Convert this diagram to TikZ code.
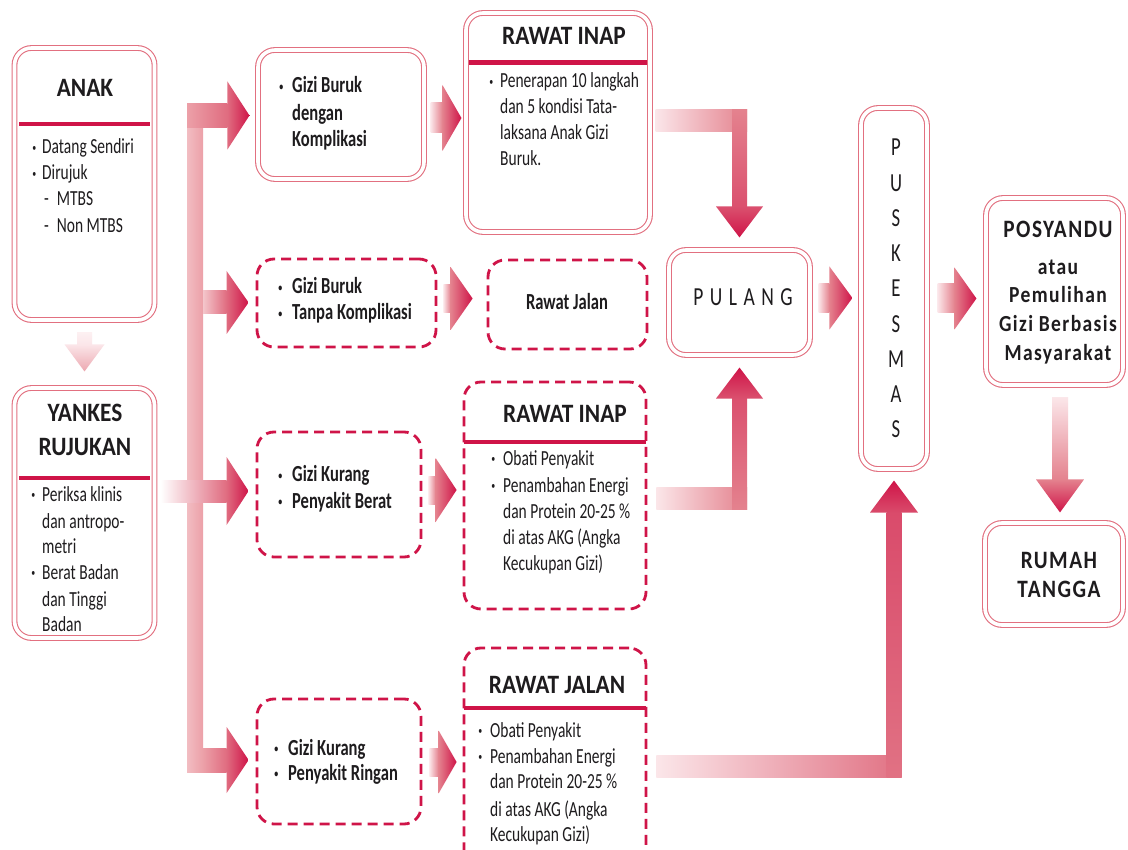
\documentclass[tikz,border=0pt]{standalone}
\usepackage{fontspec}
\setmainfont{Carlito}
\newfontfamily\bodyf[FakeStretch=0.72]{Carlito}
\newfontfamily\titlef[FakeStretch=0.88]{Carlito}
\newfontfamily\tallf[FakeStretch=0.72]{Carlito}
\newfontfamily\pulf[FakeStretch=0.75,LetterSpace=25]{Carlito}
\newfontfamily\posf[FakeStretch=0.85,LetterSpace=6]{Carlito}
\usetikzlibrary{calc}
\definecolor{crim}{RGB}{207,20,72}
\definecolor{bline}{RGB}{226,112,128}
\definecolor{apink}{RGB}{228,130,142}
\definecolor{alight}{RGB}{251,230,233}
\definecolor{vbar}{RGB}{236,160,168}
\definecolor{ink}{RGB}{30,28,30}
\newcommand\bul[1]{\llap{\raisebox{2.5pt}{\fontsize{11}{11}\selectfont\textbullet}\hspace{#1pt}}}
% block arrows: tail, tip, bar half, head half, head length, bar start colour, bar end colour, head end colour
\newcommand\arrR[8]{%
 \shade[left color=#6, right color=#7] ($(#1)+(0,-#3)$) rectangle ($(#2)+(-#5,#3)$);
 \shade[left color=#7, right color=#8] ($(#2)+(-#5,-#4)$) -- ($(#2)+(-#5,#4)$) -- (#2) -- cycle;}
\newcommand\arrD[8]{%
 \shade[top color=#6, bottom color=#7] ($(#1)+(-#3,0)$) rectangle ($(#2)+(#3,-#5)$);
 \shade[top color=#7, bottom color=#8] ($(#2)+(-#4,-#5)$) -- ($(#2)+(#4,-#5)$) -- (#2) -- cycle;}
\newcommand\arrU[8]{%
 \shade[bottom color=#6, top color=#7] ($(#1)+(-#3,0)$) rectangle ($(#2)+(#3,#5)$);
 \shade[bottom color=#7, top color=#8] ($(#2)+(-#4,#5)$) -- ($(#2)+(#4,#5)$) -- (#2) -- cycle;}
\tikzset{
 dbox/.style={draw=bline, line width=1.1pt, double=white, double distance=3.6pt, rounded corners=17pt, inner sep=0, fill=white},
 dashbox/.style={draw=crim, line width=2.8pt, dash pattern=on 10pt off 6pt, rounded corners=17pt, inner sep=0, fill=white},
 tline/.style={draw=crim, line width=4.5pt},
 body/.style={inner sep=0, anchor=base west, text=ink, font=\bodyf\fontsize{21.5}{24}\selectfont},
 bbody/.style={inner sep=0, anchor=base west, text=ink, font=\bodyf\bfseries\fontsize{23}{26}\selectfont},
 title/.style={inner sep=0, anchor=base, text=ink, font=\titlef\bfseries\fontsize{26.5}{30}\selectfont},
 lett/.style={inner sep=0, anchor=base, text=ink, font=\tallf\fontsize{26}{28}\selectfont},
 posbig/.style={inner sep=0, anchor=base, text=ink, font=\posf\bfseries\fontsize{25}{28}\selectfont},
 possmall/.style={inner sep=0, anchor=base, text=ink, font=\posf\bfseries\fontsize{23}{26}\selectfont},
}
\begin{document}
\begin{tikzpicture}[x=1pt,y=-1pt]
\useasboundingbox (0,0) rectangle (1128,850);
\clip (0,0) rectangle (1128,850);
\fill[white] (0,0) rectangle (1128,850);

% ---------- boxes ----------
\node[dbox, minimum width=140pt, minimum height=272pt] (anak) at (84.5,184) {};
\node[dbox, minimum width=140pt, minimum height=250pt] (yankes) at (84.5,513) {};
\node[dbox, minimum width=166pt, minimum height=129pt] (gbk) at (341,114.5) {};
\node[dbox, minimum width=184pt, minimum height=219pt] (ri1) at (558,122.5) {};
\node[dbox, minimum width=141pt, minimum height=105pt] (pulang) at (739.5,302.5) {};
\node[dbox, minimum width=66pt, minimum height=361pt] (pusk) at (894,288.5) {};
\node[dbox, minimum width=137pt, minimum height=187pt] (posy) at (1054.5,291.5) {};
\node[dbox, minimum width=138pt, minimum height=102pt] (rumah) at (1054,574) {};
\node[dashbox, minimum width=179pt, minimum height=88pt] (gbt) at (346.5,303) {};
\node[dashbox, minimum width=159pt, minimum height=89pt] (rj1) at (567.5,304.5) {};
\node[dashbox, minimum width=164pt, minimum height=125pt] (gkb) at (339,494.5) {};
\node[dashbox, minimum width=182pt, minimum height=227pt] (ri2) at (555,495.5) {};
\node[dashbox, minimum width=164pt, minimum height=125pt] (gkr) at (339,761.5) {};
\node[dashbox, minimum width=182pt, minimum height=232pt] (rj2) at (555,764) {};

% ---------- arrows ----------
% ANAK -> YANKES
\coordinate (v1) at ($(anak.south)+(0,12)$);
\coordinate (v2) at ($(yankes.north)+(0,-16)$);
\arrD{v1}{v2}{7.5}{20}{27}{alight!60!white}{alight}{apink!70!white}

% left distributor
\coordinate (vb) at (195,0);
\coordinate (yT) at (0,115.5);
\coordinate (yB) at (0,302.5);
\coordinate (yD) at (0,760);
\shade[left color=vbar!70!white, right color=vbar] ($(vb |- yT)+(-8,-12)$) rectangle ($(vb |- yD)+(8,12)$);
\coordinate (lA) at ($(vb |- yT)+(-8,0)$);
\coordinate (hA) at ($(gbk.west |- yT)+(-8,0)$);
\arrR{lA}{hA}{12}{34}{22}{vbar}{apink!80!crim}{crim}
\coordinate (lB) at ($(vb |- yB)+(8,0)$);
\coordinate (hB) at ($(gbt.west |- yB)+(-7,0)$);
\arrR{lB}{hB}{11.5}{31.5}{22}{vbar!60!white}{apink!80!crim}{crim}
\coordinate (lD) at ($(vb |- yD)+(8,0)$);
\coordinate (hD) at ($(gkr.west |- yD)+(-7,0)$);
\arrR{lD}{hD}{12}{33}{22}{vbar}{apink!80!crim}{crim}
\coordinate (lC) at ($(yankes.east)+(5.5,-22)$);
\coordinate (hC) at ($(gkb.west |- lC)+(-7,0)$);
\arrR{lC}{hC}{11}{34}{22}{white}{apink!80!crim}{crim}

% column 1 -> column 2
\coordinate (yA) at (0,118);
\coordinate (t1) at ($(gbk.east |- yA)+(6,0)$);
\coordinate (h1) at ($(ri1.west |- yA)+(-4,0)$);
\arrR{t1}{h1}{15}{33}{19}{alight}{apink}{crim}
\coordinate (yE) at (0,298.5);
\coordinate (t2) at ($(gbt.east |- yE)+(6,0)$);
\coordinate (h2) at ($(rj1.west |- yE)+(-14,0)$);
\arrR{t2}{h2}{14}{31.5}{22}{alight}{apink}{crim}
\coordinate (yF) at (0,490);
\coordinate (t3) at ($(gkb.east |- yF)+(6,0)$);
\coordinate (h3) at ($(ri2.west |- yF)+(-6,0)$);
\arrR{t3}{h3}{14}{32}{21}{alight}{apink}{crim}
\coordinate (yG) at (0,762);
\coordinate (t4) at ($(gkr.east |- yG)+(7,0)$);
\coordinate (h4) at ($(rj2.west |- yG)+(-6,0)$);
\arrR{t4}{h4}{14}{31.5}{18}{alight}{apink}{crim}

% RAWAT INAP (top) -> PULANG
\coordinate (r1a) at ($(ri1.east)+(5,-1.5)$);
\coordinate (r1b) at (pulang.north |- r1a);
\shade[left color=alight, right color=apink] ($(r1a)+(0,-11)$) rectangle ($(r1b)+(7.5,11)$);
\coordinate (r1t) at ($(r1b)+(0,-11)$);
\coordinate (r1c) at ($(pulang.north)+(0,-12)$);
\arrD{r1t}{r1c}{7.5}{23.5}{31}{apink}{apink!55!crim}{crim}

% RAWAT INAP (middle) -> PULANG
\coordinate (r2a) at ($(ri2.east)+(9,3)$);
\coordinate (r2b) at (pulang.south |- r2a);
\shade[left color=alight, right color=apink] ($(r2a)+(0,-11)$) rectangle ($(r2b)+(7.5,11)$);
\coordinate (r2t) at ($(r2b)+(0,11)$);
\coordinate (r2c) at ($(pulang.south)+(0,12)$);
\arrU{r2t}{r2c}{7.5}{23.5}{31}{apink}{apink!55!crim}{crim}

% PULANG -> PUSKESMAS
\coordinate (p1) at ($(pulang.east)+(8,-4.5)$);
\coordinate (p2) at ($(pusk.west |- p1)+(-8,0)$);
\arrR{p1}{p2}{14.5}{31.5}{23}{alight}{apink}{crim}

% RAWAT JALAN (bottom) -> PUSKESMAS
\coordinate (yQ) at (0,766);
\coordinate (q1) at ($(rj2.east |- yQ)+(9,0)$);
\coordinate (q2) at (pusk.south |- yQ);
\shade[left color=alight, right color=apink!85!crim] ($(q1)+(0,-11)$) rectangle ($(q2)+(7.5,11)$);
\coordinate (q3) at ($(q2)+(0,11)$);
\coordinate (q4) at ($(pusk.south)+(0,11)$);
\arrU{q3}{q4}{7.5}{24}{32}{apink!85!crim}{apink!50!crim}{crim}

% PUSKESMAS -> POSYANDU
\coordinate (s1) at ($(pusk.east)+(10,10)$);
\coordinate (s2) at ($(posy.west |- s1)+(-9,0)$);
\arrR{s1}{s2}{14.5}{31}{22}{alight}{apink}{crim}

% POSYANDU -> RUMAH TANGGA
\coordinate (u1) at ($(posy.south)+(5.5,12)$);
\coordinate (u2) at ($(u1 |- rumah.north)+(0,-10)$);
\arrD{u1}{u2}{8}{24}{33}{alight}{apink}{crim}

% ---------- texts ----------
% ANAK
\node[title] (anakT) at (85,97) {ANAK};
\draw[tline] (19,124) -- (150,124);
\node[body] (an1) at (42,154) {\bul{6}Datang Sendiri};
\node[body] (an2) at (42,180) {\bul{6}Dirujuk};
\node[body] (an3) at (44,206) {-\hspace{8pt}MTBS};
\node[body] (an4) at (44,233) {-\hspace{8pt}Non MTBS};

% YANKES RUJUKAN
\node[title] (ykT1) at (85,421) {YANKES};
\node[title] (ykT2) at (85,455) {RUJUKAN};
\draw[tline] (19,478) -- (150,478);
\node[body] (yk1) at (42,501) {\bul{7}Periksa klinis};
\node[body] (yk2) at (42,528) {dan antropo-};
\node[body] (yk3) at (42,553) {metri};
\node[body] (yk4) at (42,579) {\bul{7}Berat Badan};
\node[body] (yk5) at (42,606) {dan Tinggi};
\node[body] (yk6) at (42,631) {Badan};

% Gizi Buruk dengan Komplikasi
\node[bbody] (g1) at (292,93) {\bul{9}Gizi Buruk};
\node[bbody] (g2) at (292,121) {dengan};
\node[bbody] (g3) at (292,147) {Komplikasi};

% RAWAT INAP top
\node[title] (ri1T) at (564,45) {RAWAT INAP};
\draw[tline] (469,62.5) -- (647,62.5);
\node[body] (r11) at (500,88) {\bul{7}Penerapan 10 langkah};
\node[body] (r12) at (500,114) {dan 5 kondisi Tata-};
\node[body] (r13) at (500,140) {laksana Anak Gizi};
\node[body] (r14) at (500,166) {Buruk.};

% Gizi Buruk tanpa komplikasi
\node[bbody] (gbt1) at (292,294) {\bul{10}Gizi Buruk};
\node[bbody] (gbt2) at (292,320) {\bul{10}Tanpa Komplikasi};
\node[bbody, anchor=base] (rj1T) at (567,310) {Rawat Jalan};

% Gizi Kurang Penyakit Berat
\node[bbody] (gkb1) at (292,482) {\bul{10}Gizi Kurang};
\node[bbody] (gkb2) at (292,508) {\bul{10}Penyakit Berat};

% RAWAT INAP middle
\node[title] (ri2T) at (565,423) {RAWAT INAP};
\draw[tline] (464,442) -- (646,442);
\node[body] (ri21) at (503,465) {\bul{8}Obati Penyakit};
\node[body] (ri22) at (503,492) {\bul{8}Penambahan Energi};
\node[body] (ri23) at (503,518) {dan Protein 20-25 \%};
\node[body] (ri24) at (503,544) {di atas AKG (Angka};
\node[body] (ri25) at (503,570) {Kecukupan Gizi)};

% Gizi Kurang Penyakit Ringan
\node[bbody] (gkr1) at (288,755) {\bul{10}Gizi Kurang};
\node[bbody] (gkr2) at (288,780) {\bul{10}Penyakit Ringan};

% RAWAT JALAN bottom
\node[title] (rj2T) at (557,693) {RAWAT JALAN};
\draw[tline] (464,708) -- (646,708);
\node[body] (rj21) at (490,737) {\bul{8}Obati Penyakit};
\node[body] (rj22) at (490,763) {\bul{8}Penambahan Energi};
\node[body] (rj23) at (490,788) {dan Protein 20-25 \%};
\node[body] (rj24) at (490,816) {di atas AKG (Angka};
\node[body] (rj25) at (490,841) {Kecukupan Gizi)};

% PULANG
\node[inner sep=0, anchor=base, text=ink, font=\pulf\fontsize{26}{28}\selectfont] (pulT) at (743,306) {PULANG};

% PUSKESMAS
\foreach \l [count=\i] in {P,U,S,K,E,S,M,A,S}
  \node[lett] (pk\i) at (896,{156+35.25*(\i-1)}) {\l};

% POSYANDU
\node[posbig] (ps1) at (1058,238) {POSYANDU};
\node[possmall] (ps2) at (1058,275) {atau};
\node[possmall] (ps3) at (1058,303) {Pemulihan};
\node[possmall] (ps4) at (1058,332) {Gizi Berbasis};
\node[possmall] (ps5) at (1058,361) {Masyarakat};

% RUMAH TANGGA
\node[posbig] (rt1) at (1059,568) {RUMAH};
\node[posbig] (rt2) at (1059,597) {TANGGA};
\end{tikzpicture}
\end{document}
